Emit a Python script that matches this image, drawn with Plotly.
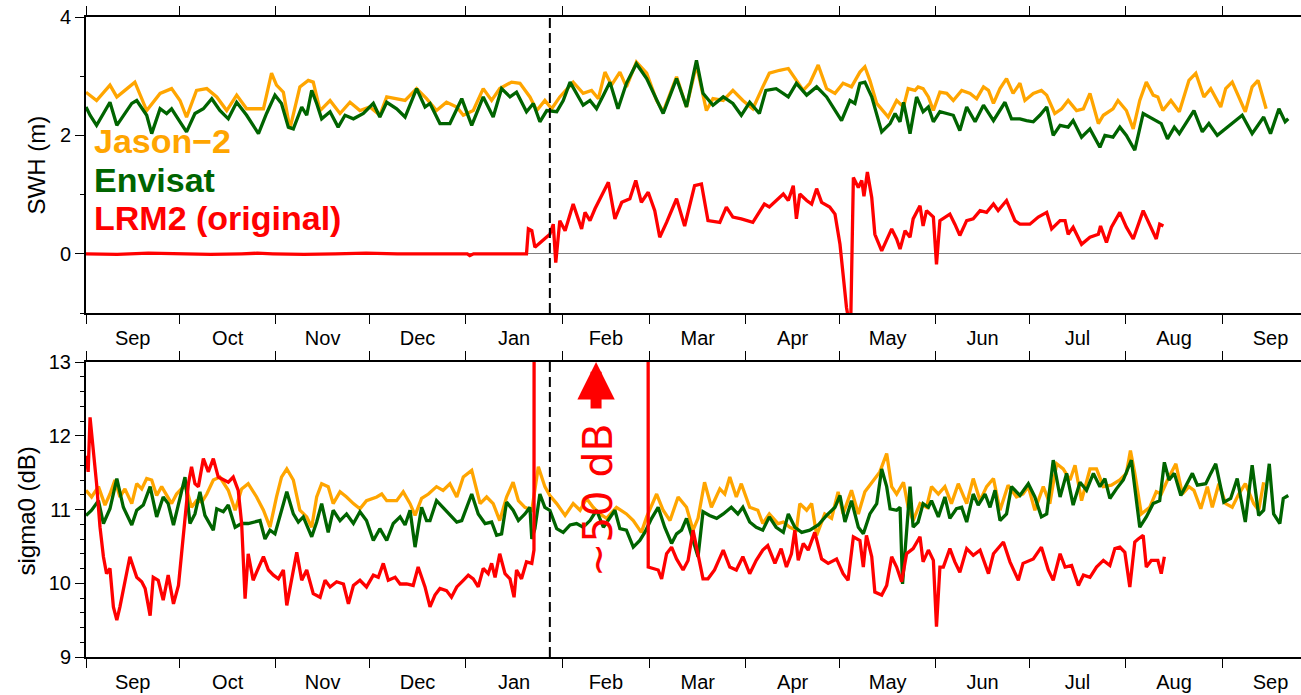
import pandas as pd
import plotly.graph_objects as go

# Time axis: day offsets are counted from 1 Sep 2010
START = pd.Timestamp("2010-09-01")
X_END = pd.Timestamp("2011-09-26 07:00")
MODE_CHANGE = "2011-01-28"

# Significant wave height (m): (day offset, value)
JASON_SWH = [
    (0, 2.73), (3.4, 2.59), (7.7, 2.85), (9.9, 2.65), (12.5, 2.76), (15.7, 2.90), (19.5, 2.42),
    (23.8, 2.71), (27.5, 2.79), (30.2, 2.59), (32.3, 2.31), (35.5, 2.76), (38.8, 2.79), (42.0, 2.65),
    (45.2, 2.42), (48.4, 2.68), (51.6, 2.45), (57.0, 2.45), (59.6, 3.05), (61.2, 2.85), (63.4, 2.73),
    (65.5, 2.11), (68.7, 2.82), (71.4, 2.93), (73.0, 2.90), (75.2, 2.42), (78.4, 2.59), (81.6, 2.37),
    (84.8, 2.56), (88.0, 2.42), (91.2, 2.48), (94.4, 2.34), (96.6, 2.65), (99.8, 2.62), (102.5, 2.59),
    (106.2, 2.79), (109.4, 2.62), (112.6, 2.42), (115.8, 2.56), (119.1, 2.48), (121.2, 2.34),
    (124.4, 2.42), (127.6, 2.79), (130.3, 2.59), (132.9, 2.79), (136.7, 2.90), (139.4, 2.88),
    (142.6, 2.65), (144.8, 2.42), (147.4, 2.59), (149.6, 2.45), (152.2, 2.65), (156.5, 2.90),
    (159.7, 2.71), (162.4, 2.76), (164.6, 2.62), (166.7, 3.07), (168.8, 2.85), (171.5, 3.07),
    (173.6, 2.82), (176.8, 3.24), (180.1, 3.05), (183.3, 2.59), (185.4, 2.40), (189.7, 2.99),
    (192.9, 2.48), (196.1, 3.19), (199.3, 2.42), (201.4, 2.62), (204.7, 2.59), (207.8, 2.76),
    (211.0, 2.59), (214.2, 2.45), (217.4, 2.82), (219.5, 3.05), (222.8, 3.10), (225.6, 3.13),
    (228.2, 2.93), (230.4, 2.76), (232.5, 2.88), (235.2, 3.19), (237.9, 2.79), (240.6, 2.71),
    (243.2, 2.88), (245.9, 2.82), (248.6, 3.07), (250.2, 3.16), (251.8, 2.93), (254.0, 2.54),
    (257.7, 2.31), (260.4, 2.59), (262.6, 2.48), (264.1, 2.79), (266.3, 2.76), (267.3, 2.82),
    (268.9, 2.79), (270.6, 2.65), (272.2, 2.42), (274.3, 2.73), (276.5, 2.71), (278.6, 2.59),
    (281.3, 2.76), (284.0, 2.71), (286.1, 2.62), (288.3, 2.82), (289.9, 2.76), (291.5, 2.54),
    (293.6, 2.79), (295.7, 2.96), (297.8, 2.71), (300.0, 2.88), (301.6, 2.59), (304.3, 2.71),
    (306.9, 2.76), (308.6, 2.68), (311.2, 2.37), (313.4, 2.45), (315.5, 2.59), (318.2, 2.42),
    (320.4, 2.45), (322.5, 2.71), (325.2, 2.20), (326.8, 2.34), (329.9, 2.45), (331.5, 2.59),
    (334.2, 2.42), (336.4, 2.11), (338.5, 2.59), (340.6, 2.90), (342.8, 2.68), (344.3, 2.65),
    (345.9, 2.42), (348.5, 2.59), (351.2, 2.40), (354.3, 2.93), (356.5, 3.05), (359.1, 2.65),
    (361.3, 2.79), (364.5, 2.48), (366.1, 2.79), (368.2, 2.90), (370.3, 2.65), (372.4, 2.40),
    (374.6, 2.82), (376.5, 2.93), (379.1, 2.45),
]

ENVISAT_SWH = [
    (0, 2.48), (1.3, 2.34), (3.4, 2.17), (5.6, 2.37), (7.7, 2.56), (9.9, 2.17), (12.0, 2.34),
    (14.7, 2.54), (16.3, 2.59), (19.5, 2.34), (21.1, 2.03), (23.8, 2.45), (25.9, 2.37), (27.5, 2.45),
    (30.2, 2.23), (32.3, 2.06), (35.0, 2.37), (37.7, 2.45), (40.4, 2.62), (43.0, 2.42), (45.7, 2.28),
    (48.4, 2.56), (51.6, 2.34), (55.4, 2.03), (58.0, 2.37), (60.7, 2.68), (62.8, 2.54), (65.0, 2.14),
    (66.6, 2.11), (69.3, 2.48), (70.9, 2.34), (72.5, 2.76), (74.1, 2.54), (75.7, 2.28), (78.4, 2.40),
    (81.0, 2.14), (83.2, 2.34), (85.9, 2.28), (89.1, 2.37), (92.3, 2.54), (94.4, 2.31), (96.6, 2.56),
    (99.8, 2.45), (102.5, 2.31), (106.2, 2.79), (108.9, 2.48), (110.5, 2.54), (113.7, 2.20),
    (116.9, 2.20), (120.7, 2.62), (123.9, 2.17), (127.6, 2.65), (130.8, 2.31), (133.5, 2.79),
    (136.2, 2.65), (138.3, 2.73), (141.5, 2.40), (143.7, 2.54), (145.8, 2.23), (148.0, 2.42),
    (151.2, 2.40), (153.3, 2.59), (155.5, 2.90), (157.6, 2.71), (159.7, 2.51), (161.9, 2.59),
    (164.0, 2.45), (166.2, 2.68), (168.3, 2.90), (170.9, 2.45), (173.6, 2.88), (176.8, 3.21),
    (180.1, 2.96), (185.4, 2.37), (189.7, 2.96), (192.9, 2.48), (196.1, 3.27), (198.2, 2.71),
    (201.4, 2.51), (204.7, 2.65), (207.8, 2.54), (210.5, 2.34), (213.2, 2.56), (216.3, 2.37),
    (218.4, 2.76), (221.7, 2.79), (225.6, 2.65), (228.2, 2.88), (231.5, 2.68), (234.7, 2.82),
    (237.9, 2.65), (242.7, 2.25), (245.4, 2.59), (247.0, 2.54), (248.6, 2.88), (250.2, 2.90),
    (252.4, 2.65), (255.6, 2.06), (258.3, 2.20), (259.9, 2.37), (261.5, 2.23), (262.6, 2.56),
    (264.7, 2.03), (266.8, 2.65), (268.9, 2.40), (270.6, 2.48), (272.2, 2.23), (274.3, 2.40),
    (276.5, 2.37), (278.6, 2.34), (280.7, 2.08), (282.9, 2.48), (285.6, 2.23), (288.3, 2.51),
    (291.5, 2.25), (295.2, 2.56), (297.3, 2.28), (300.0, 2.28), (302.1, 2.25), (304.3, 2.23),
    (306.4, 2.34), (308.6, 2.48), (310.7, 2.00), (312.9, 2.17), (315.5, 2.14), (317.1, 2.25),
    (319.8, 1.97), (322.5, 2.11), (325.7, 1.80), (327.3, 2.00), (329.9, 1.97), (332.1, 2.14),
    (334.2, 2.00), (336.9, 1.75), (339.6, 2.37), (342.8, 2.28), (345.4, 2.20), (347.4, 1.94),
    (349.6, 2.14), (351.2, 2.03), (355.9, 2.42), (358.6, 2.06), (360.7, 2.20), (363.4, 2.00),
    (366.1, 2.11), (368.2, 2.20), (371.4, 2.34), (374.6, 2.03), (378.3, 2.31), (380.5, 2.03),
    (383.2, 2.45), (385.2, 2.23), (386.2, 2.28),
]

LRM2_SWH = [
    (0, 0.0), (10, -0.01), (20, 0.01), (30, 0.0), (40, -0.01), (50, 0.0), (55, 0.01), (60, 0.0),
    (70, -0.01), (80, 0.0), (90, 0.01), (100, 0.0), (110, 0.0), (122.5, 0.0), (123.3, -0.03),
    (124.5, 0.0), (135, 0.0), (141.5, 0.0), (142.1, 0.42), (143.2, 0.39), (144.2, 0.11),
    (149.0, 0.33), (150.1, 0.50), (150.9, -0.15), (152.2, 0.56), (153.9, 0.39), (156.5, 0.84),
    (157.6, 0.67), (159.2, 0.42), (160.3, 0.70), (161.9, 0.56), (163.5, 0.76), (165.1, 0.93),
    (167.8, 1.21), (169.9, 0.59), (172.1, 0.87), (174.7, 0.93), (176.6, 1.24), (178.4, 0.87),
    (180.6, 1.04), (182.7, 0.73), (184.3, 0.28), (186.5, 0.53), (189.7, 0.93), (192.3, 0.47),
    (195.5, 1.15), (197.7, 1.18), (199.8, 0.56), (203.6, 0.53), (205.7, 0.79), (207.8, 0.62),
    (210.5, 0.59), (214.2, 0.53), (217.9, 0.84), (219.5, 0.79), (221.7, 0.90), (224.0, 1.01),
    (225.6, 0.90), (227.2, 1.15), (228.2, 0.59), (229.3, 1.01), (231.5, 0.90), (233.1, 0.84),
    (234.7, 1.10), (236.3, 0.87), (238.9, 0.79), (240.6, 0.67), (242.2, 0.16), (244.3, -0.91),
    (245.6, -1.3), (246.5, 1.29), (248.1, 1.12), (249.2, 1.24), (249.9, 0.97), (251.0, 1.38),
    (252.4, 0.95), (253.4, 0.33), (255.6, 0.05), (257.2, 0.22), (258.8, 0.42), (260.4, 0.25),
    (261.5, 0.08), (263.1, 0.39), (264.7, 0.28), (265.7, 0.59), (267.9, 0.81), (268.9, 0.47),
    (270.0, 0.73), (272.2, 0.62), (273.2, -0.18), (274.3, 0.56), (277.5, 0.67), (279.1, 0.50),
    (280.7, 0.31), (282.9, 0.56), (285.0, 0.59), (287.2, 0.73), (289.3, 0.70), (291.5, 0.84),
    (293.0, 0.73), (295.7, 0.90), (298.4, 0.56), (300.0, 0.50), (303.2, 0.50), (305.9, 0.62),
    (308.6, 0.70), (310.2, 0.42), (312.9, 0.56), (314.5, 0.56), (315.5, 0.33), (317.1, 0.45),
    (319.8, 0.16), (322.5, 0.28), (325.2, 0.33), (325.9, 0.47), (327.8, 0.19), (329.4, 0.45),
    (332.1, 0.70), (334.2, 0.45), (336.4, 0.25), (339.6, 0.73), (341.7, 0.50), (343.8, 0.25),
    (344.9, 0.50), (346.1, 0.47),
]

# Backscatter sigma0 (dB): (day offset, value)
JASON_SIG = [
    (0, 11.26), (1.8, 11.17), (4.0, 11.31), (6.1, 11.06), (7.7, 11.21), (9.3, 11.40), (10.9, 11.17),
    (12.5, 11.28), (14.7, 11.08), (16.3, 11.35), (17.9, 11.28), (19.5, 11.42), (21.1, 11.40),
    (22.7, 11.19), (24.3, 11.31), (25.9, 11.19), (27.5, 11.08), (29.1, 11.21), (31.3, 11.31),
    (32.3, 11.28), (33.9, 11.03), (35.5, 11.12), (37.2, 11.10), (38.8, 11.21), (40.9, 11.40),
    (43.0, 11.44), (45.7, 11.26), (47.9, 10.99), (50.0, 11.28), (52.1, 11.35), (54.8, 11.17),
    (57.0, 10.99), (59.1, 10.76), (61.2, 11.17), (62.8, 11.44), (64.5, 11.55), (66.6, 11.40),
    (68.7, 10.99), (70.9, 10.90), (72.5, 10.76), (74.1, 11.17), (75.7, 11.35), (77.8, 11.31),
    (79.4, 11.08), (81.6, 11.24), (83.7, 11.17), (85.9, 11.08), (88.0, 11.01), (90.1, 11.12),
    (93.4, 11.17), (95.0, 11.21), (96.6, 11.12), (99.8, 11.12), (101.9, 11.24), (104.1, 11.08),
    (105.7, 10.92), (107.8, 11.15), (110.0, 11.21), (112.6, 11.31), (114.7, 11.26), (116.9, 11.35),
    (119.1, 11.17), (121.2, 11.44), (123.9, 11.53), (126.6, 11.08), (128.7, 11.17), (130.8, 11.08),
    (132.9, 10.85), (135.1, 11.17), (137.2, 11.37), (138.9, 11.12), (141.0, 11.03), (143.2, 10.99),
    (145.3, 11.58), (147.4, 11.31), (149.0, 11.19), (151.2, 11.08), (153.9, 10.92), (156.5, 11.08),
    (158.7, 10.99), (160.8, 11.15), (162.9, 11.03), (165.1, 10.94), (167.2, 10.88), (170.4, 11.03),
    (173.6, 10.94), (175.8, 10.85), (178.4, 10.69), (180.1, 10.90), (183.3, 11.21), (185.4, 10.99),
    (187.6, 10.85), (190.2, 11.17), (192.9, 11.03), (195.0, 10.72), (196.6, 10.88), (198.7, 11.37),
    (200.9, 11.03), (203.6, 11.28), (205.2, 11.21), (206.8, 11.44), (208.9, 11.17), (210.5, 11.35),
    (213.2, 11.03), (215.8, 10.99), (217.4, 10.81), (219.5, 10.94), (222.3, 10.81), (224.0, 10.83),
    (226.1, 10.76), (228.2, 10.72), (229.3, 11.08), (231.5, 10.99), (233.1, 11.08), (234.7, 10.65),
    (237.3, 10.94), (239.5, 10.88), (241.6, 11.24), (243.2, 10.94), (245.9, 11.26), (248.1, 10.94),
    (250.2, 11.24), (252.9, 11.40), (255.0, 11.51), (257.2, 11.76), (258.8, 11.31), (260.4, 11.21),
    (262.6, 11.37), (264.1, 11.03), (265.7, 10.85), (267.9, 11.08), (270.0, 11.03), (271.6, 11.31),
    (273.8, 11.21), (275.9, 11.31), (278.0, 11.08), (280.2, 11.35), (282.9, 11.08), (285.0, 11.42),
    (287.2, 11.12), (289.3, 11.31), (291.5, 11.42), (293.6, 10.99), (296.2, 11.33), (298.9, 11.17),
    (301.0, 11.21), (302.7, 11.31), (304.8, 10.99), (307.5, 11.31), (309.6, 11.08), (311.8, 11.62),
    (313.9, 11.55), (316.1, 11.40), (317.7, 11.60), (319.8, 11.12), (322.5, 11.55), (324.6, 11.55),
    (326.8, 11.31), (329.4, 11.33), (332.1, 11.40), (334.2, 11.49), (335.5, 11.80), (336.9, 11.49),
    (339.0, 10.94), (341.7, 11.03), (343.8, 11.24), (345.4, 11.21), (347.4, 11.40), (350.1, 11.62),
    (352.2, 11.21), (354.3, 11.31), (355.9, 11.26), (358.1, 11.01), (360.2, 11.31), (361.8, 11.03),
    (363.9, 11.35), (366.1, 11.08), (368.2, 11.03), (370.3, 11.21), (372.4, 11.35), (375.1, 11.08),
    (376.7, 10.99), (378.3, 11.37),
]

ENVISAT_SIG = [
    (0, 10.92), (1.8, 10.99), (4.0, 11.12), (5.6, 10.81), (7.7, 11.01), (9.9, 11.42), (12.0, 11.03),
    (14.7, 10.79), (16.3, 10.99), (18.4, 11.06), (20.6, 11.31), (22.7, 10.90), (24.8, 11.17),
    (26.4, 11.08), (28.1, 10.79), (30.2, 11.17), (31.8, 11.44), (33.4, 10.81), (35.0, 10.94),
    (36.6, 11.24), (38.2, 10.92), (40.9, 10.72), (42.0, 11.01), (44.1, 10.97), (45.7, 11.06),
    (47.9, 10.76), (50.0, 10.81), (52.1, 10.81), (55.9, 10.85), (57.5, 10.60), (59.1, 10.72),
    (60.7, 10.67), (62.8, 10.97), (64.5, 11.24), (66.6, 10.94), (68.2, 10.83), (69.8, 10.90),
    (72.5, 10.63), (74.1, 10.83), (75.7, 11.08), (77.8, 10.69), (79.4, 10.99), (81.6, 10.85),
    (83.7, 10.94), (85.9, 10.81), (88.0, 10.97), (90.1, 10.85), (92.3, 10.58), (94.4, 10.74),
    (96.6, 10.58), (98.7, 10.81), (100.9, 10.90), (102.5, 10.79), (104.1, 10.99), (105.7, 10.49),
    (107.8, 11.03), (109.4, 10.85), (110.5, 10.85), (112.6, 11.12), (114.7, 11.03), (116.9, 10.94),
    (119.1, 10.83), (120.7, 10.85), (122.3, 11.03), (123.9, 11.21), (126.0, 10.94), (128.2, 10.81),
    (130.3, 10.83), (131.9, 10.65), (133.5, 10.67), (135.1, 11.10), (137.2, 10.99), (138.9, 10.85),
    (141.0, 10.94), (142.6, 11.03), (143.2, 10.60), (144.2, 10.74), (145.8, 11.21), (147.4, 11.03),
    (149.0, 10.99), (151.2, 10.74), (153.3, 10.69), (155.5, 10.79), (157.6, 10.81), (159.7, 10.76),
    (161.9, 10.85), (164.0, 10.99), (166.2, 10.76), (168.3, 10.88), (169.9, 10.99), (171.5, 10.74),
    (173.6, 10.72), (175.8, 10.49), (177.9, 10.58), (179.5, 10.69), (181.7, 10.88), (183.8, 11.03),
    (185.9, 10.76), (188.1, 10.54), (189.7, 10.67), (191.3, 10.72), (192.9, 10.88), (195.0, 10.58),
    (196.6, 10.36), (198.2, 10.97), (200.3, 10.92), (202.6, 10.88), (204.7, 10.94), (207.3, 11.03),
    (209.4, 10.94), (211.0, 11.03), (213.2, 10.83), (215.3, 10.76), (217.4, 10.72), (219.5, 10.90),
    (221.7, 10.76), (224.0, 10.69), (225.6, 10.94), (227.7, 10.76), (229.9, 10.69), (232.5, 10.72),
    (235.2, 10.79), (237.9, 10.92), (240.6, 11.03), (242.2, 11.19), (243.8, 10.83), (245.9, 11.12),
    (248.1, 10.76), (249.7, 10.67), (251.8, 10.94), (254.0, 11.08), (255.6, 11.55), (257.2, 11.31),
    (258.3, 11.01), (260.4, 10.99), (261.5, 11.03), (262.3, 9.99), (263.6, 10.67), (264.7, 11.31),
    (265.7, 10.76), (267.3, 10.83), (268.9, 11.08), (270.6, 11.03), (271.6, 11.12), (273.8, 10.90),
    (275.9, 11.17), (277.5, 10.88), (279.6, 11.01), (281.3, 11.03), (282.9, 10.83), (285.0, 11.21),
    (286.6, 11.06), (288.8, 11.21), (290.4, 11.03), (292.0, 11.26), (293.6, 10.85), (295.7, 10.94),
    (297.3, 11.31), (300.0, 11.19), (302.7, 11.35), (304.8, 11.17), (306.9, 10.90), (308.6, 10.94),
    (310.7, 11.67), (312.9, 11.17), (315.0, 11.49), (317.1, 11.06), (319.3, 11.37), (321.4, 11.26),
    (323.6, 11.49), (325.7, 11.31), (327.3, 11.42), (328.9, 11.15), (331.0, 11.28), (333.2, 11.40),
    (335.8, 11.67), (338.5, 10.76), (340.6, 10.90), (342.8, 11.08), (344.9, 11.12), (346.4, 11.64),
    (347.9, 11.40), (349.6, 11.49), (351.7, 11.19), (353.8, 11.37), (355.4, 11.49), (357.0, 11.33),
    (359.7, 11.35), (361.3, 11.49), (362.9, 11.62), (365.5, 11.10), (367.7, 11.15), (369.8, 11.42),
    (372.4, 10.83), (374.6, 11.60), (376.7, 10.92), (378.3, 10.99), (380.1, 11.62), (381.5, 10.94),
    (383.5, 10.81), (384.6, 11.15), (386.2, 11.19),
]

LRM2_SIG = [
    (0, 11.73), (0.7, 11.51), (1.3, 12.25), (2.4, 11.80), (3.4, 11.35), (4.5, 10.76), (5.6, 10.36),
    (6.6, 10.13), (7.7, 10.20), (8.8, 9.68), (9.9, 9.50), (10.9, 9.68), (12.5, 10.04), (14.1, 10.36),
    (16.3, 10.08), (17.9, 10.02), (19.0, 9.93), (20.6, 9.56), (21.6, 10.08), (23.2, 10.04),
    (24.8, 9.77), (26.4, 10.11), (28.1, 9.72), (29.7, 9.97), (30.7, 10.40), (31.8, 10.90),
    (32.9, 11.35), (33.9, 11.58), (35.0, 11.35), (36.1, 11.31), (37.7, 11.69), (39.3, 11.51),
    (40.9, 11.69), (42.5, 11.44), (44.1, 11.40), (45.7, 11.37), (47.3, 11.44), (48.9, 11.26),
    (50.0, 10.81), (51.1, 9.79), (52.1, 10.40), (53.7, 10.04), (54.8, 10.15), (57.0, 10.36),
    (58.6, 10.18), (60.2, 10.11), (61.8, 10.06), (63.4, 10.18), (64.5, 9.70), (66.1, 10.06),
    (67.7, 10.42), (69.3, 10.04), (70.9, 10.18), (73.0, 9.86), (75.2, 9.81), (76.8, 10.04),
    (78.4, 9.95), (80.5, 10.02), (82.7, 9.99), (84.3, 9.72), (85.9, 9.97), (88.0, 10.04),
    (90.1, 9.95), (92.3, 10.11), (93.9, 10.08), (95.5, 10.27), (97.1, 10.04), (99.3, 10.08),
    (100.9, 9.99), (103.0, 9.99), (105.1, 9.97), (106.7, 10.22), (108.9, 9.95), (110.5, 9.68),
    (112.1, 9.84), (113.7, 9.93), (115.8, 9.90), (117.4, 9.81), (119.1, 9.95), (121.2, 10.04),
    (122.8, 10.11), (124.4, 10.06), (126.0, 9.95), (127.6, 10.20), (129.2, 10.13), (130.3, 10.27),
    (131.4, 10.08), (132.9, 10.40), (134.6, 10.13), (136.2, 10.06), (137.5, 9.81), (138.3, 10.18),
    (139.9, 10.06), (141.5, 10.29), (143.2, 10.27), (143.9, 10.45),
    (144.5, 50.2), (150.0, 50.5), (160.0, 49.8), (170.0, 50.2), (180.3, 50.0),
    (180.6, 10.22), (182.2, 10.20), (183.8, 10.18), (184.9, 10.06), (186.5, 10.40), (188.1, 10.49),
    (189.7, 10.33), (191.8, 10.18), (193.4, 10.31), (195.0, 10.72), (196.6, 10.40), (198.2, 10.06),
    (199.8, 10.06), (201.9, 10.18), (204.7, 10.45), (206.8, 10.22), (208.9, 10.18), (211.0, 10.36),
    (213.2, 10.13), (215.3, 10.31), (217.4, 10.45), (219.0, 10.51), (221.3, 10.27), (223.3, 10.47),
    (225.0, 10.22), (226.6, 10.40), (227.7, 10.72), (228.8, 10.31), (230.4, 10.54), (232.0, 10.45),
    (234.1, 10.69), (236.3, 10.33), (238.4, 10.27), (241.1, 10.33), (243.2, 10.13), (244.8, 10.04),
    (246.5, 10.63), (248.6, 10.58), (249.7, 10.22), (250.7, 10.65), (252.4, 10.36), (253.4, 9.88),
    (255.6, 9.84), (257.2, 9.97), (258.8, 10.36), (260.4, 10.22), (262.0, 10.02), (263.6, 10.40),
    (265.7, 10.47), (267.9, 10.63), (268.9, 10.29), (270.6, 10.45), (272.2, 10.31), (273.2, 9.41),
    (274.3, 10.22), (275.4, 10.22), (277.5, 10.47), (279.1, 10.29), (280.7, 10.15), (282.9, 10.47),
    (285.0, 10.38), (287.2, 10.45), (289.9, 10.13), (291.5, 10.40), (294.7, 10.56), (296.8, 10.29),
    (299.5, 10.04), (301.0, 10.27), (304.3, 10.33), (306.9, 10.49), (309.1, 10.18), (310.7, 10.04),
    (312.9, 10.40), (314.5, 10.22), (316.6, 10.24), (318.8, 9.97), (320.4, 10.11), (322.5, 10.08),
    (324.6, 10.22), (326.8, 10.31), (328.9, 10.24), (330.5, 10.47), (332.1, 10.49), (333.7, 10.42),
    (335.3, 9.95), (336.9, 10.56), (338.0, 10.60), (339.6, 10.65), (340.6, 10.22), (342.2, 10.31),
    (344.3, 10.31), (345.4, 10.13), (346.4, 10.36),
]

MISSIONS = ["Jason\u22122", "Envisat", "LRM2 (original)"]
COLORS = ["#FFA500", "#006400", "#FF0000"]

FONT = "Liberation Sans, Arial, Helvetica, sans-serif"


def to_xy(pairs):
    days = [d for d, _ in pairs]
    vals = [v for _, v in pairs]
    return START + pd.to_timedelta(days, unit="D"), vals


fig = go.Figure()

panels = [
    ((JASON_SWH, ENVISAT_SWH, LRM2_SWH), "x2", "y2"),
    ((JASON_SIG, ENVISAT_SIG, LRM2_SIG), "x", "y"),
]
for series, xa, ya in panels:
    for name, color, pairs in zip(MISSIONS, COLORS, series):
        x, y = to_xy(pairs)
        fig.add_trace(go.Scatter(
            x=x, y=y, mode="lines", name=name, xaxis=xa, yaxis=ya,
            line=dict(color=color, width=3.3), showlegend=False,
        ))

xcommon = dict(
    type="date", range=[START, X_END], tick0="2010-09-01", dtick="M1",
    tickformat="%b", ticklabelmode="period", ticklabelstandoff=-3,
    ticks="outside", ticklen=9, tickwidth=1, tickcolor="black",
    showline=True, linewidth=2, linecolor="black", mirror="ticks",
    showgrid=False, zeroline=False,
    tickfont=dict(family=FONT, size=20, color="black"),
)
ycommon = dict(
    ticks="outside", ticklen=9, tickwidth=1, tickcolor="black",
    showline=True, linewidth=2, linecolor="black", mirror=False,
    showgrid=False,
    tickfont=dict(family=FONT, size=20, color="black"),
)

fig.update_layout(
    width=1301, height=695,
    margin=dict(l=86, r=0, t=17, b=38),
    paper_bgcolor="white", plot_bgcolor="white",
    showlegend=False,
    font=dict(family=FONT, color="black"),
    xaxis=dict(domain=[0, 1], anchor="y", **xcommon),
    xaxis2=dict(domain=[0, 1], anchor="y2", **xcommon),
    yaxis=dict(domain=[0, 0.4609], anchor="x", range=[9, 13], tick0=9, dtick=1,
               zeroline=False,
               minor=dict(dtick=0.2, ticks="outside", ticklen=4, tickwidth=1, tickcolor="black"),
               **ycommon),
    yaxis2=dict(domain=[0.5375, 1], anchor="x2", range=[-1, 4], tick0=0, dtick=2,
                zeroline=True, zerolinecolor="#808080", zerolinewidth=1,
                minor=dict(dtick=1, ticks="outside", ticklen=4, tickwidth=1, tickcolor="black"),
                **ycommon),
)

# Dashed marker of the processing change, drawn through both panels
for xa, ya in (("x", "y"), ("x2", "y2")):
    fig.add_shape(type="line", xref=xa, yref=f"{ya} domain",
                  x0=MODE_CHANGE, x1=MODE_CHANGE, y0=0, y1=1,
                  line=dict(color="black", width=2, dash="10px,5px"), layer="above")

# Coloured mission labels in the wave-height panel
label_tops = [0.8383, 0.7783, 0.7184]
for name, color, ytop in zip(MISSIONS, COLORS, label_tops):
    fig.add_annotation(text=f"<b>{name}</b>", xref="paper", yref="paper",
                       x=0, y=ytop, xshift=6, xanchor="left", yanchor="top",
                       showarrow=False, font=dict(family=FONT, size=34, color=color))

# Axis titles
fig.add_annotation(text="SWH (m)", xref="paper", yref="paper", x=-0.0407, y=0.769,
                   textangle=-90, xanchor="center", yanchor="middle", showarrow=False,
                   font=dict(family=FONT, size=24, color="black"))
fig.add_annotation(text="sigma0 (dB)", xref="paper", yref="paper", x=-0.049, y=0.228,
                   textangle=-90, xanchor="center", yanchor="middle", showarrow=False,
                   font=dict(family=FONT, size=24, color="black"))

# Off-scale note for the LRM2 backscatter
fig.add_annotation(text="~50 dB", xref="paper", yref="paper", x=0.4214, y=0.2453,
                   textangle=-90, xanchor="center", yanchor="middle", showarrow=False,
                   font=dict(family="DejaVu Sans, sans-serif", size=41, color="#FF0000"))
fig.add_annotation(text="", xref="paper", yref="paper", x=0.4198, y=0.4609,
                   ax=0, ay=48, showarrow=True, arrowhead=2, arrowsize=0.68,
                   arrowwidth=11, arrowcolor="#FF0000", standoff=0)

fig.write_html("out.html")
